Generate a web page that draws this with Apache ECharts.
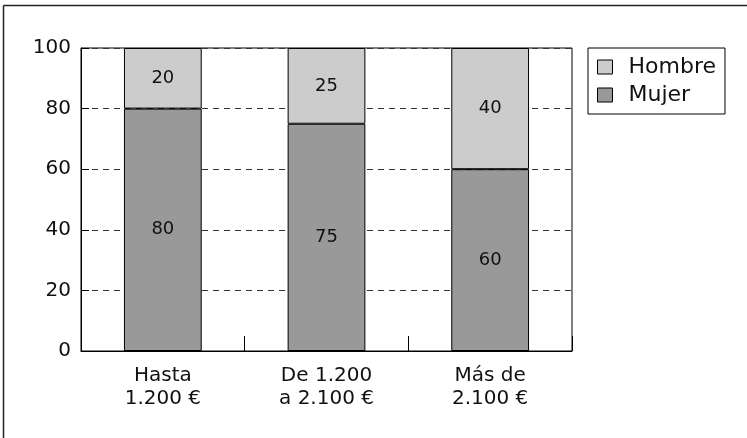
<!DOCTYPE html>
<html>
<head>
<meta charset="utf-8">
<script src="https://cdn.jsdelivr.net/npm/echarts@6/dist/echarts.min.js"></script>
<style>
html,body{margin:0;padding:0;background:#fff;}
#c{width:747px;height:438px;}
</style>
</head>
<body>
<div id="c"></div>
<script>
const categories = ['Hasta\n1.200 €', 'De 1.200\na 2.100 €', 'Más de\n2.100 €'];
const mujer = [80, 75, 60];
const hombre = [20, 25, 40];
const yTicks = [0, 20, 40, 60, 80, 100];

const FONT = 'DejaVu Sans';
const chart = echarts.init(document.getElementById('c'));
chart.setOption({
  animation: false,
  backgroundColor: '#fff',
  textStyle: { fontFamily: FONT, color: '#111' },
  grid: { left: 81, right: 175, top: 48, bottom: 87, show: true, borderColor: '#000', borderWidth: 1, backgroundColor: 'transparent' },
  legend: {
    left: 588, top: 48, orient: 'vertical',
    padding: [8, 9, 8, 9],
    itemWidth: 15, itemHeight: 14, itemGap: 6,
    borderColor: '#000', borderWidth: 1,
    icon: 'rect',
    data: ['Hombre', 'Mujer'],
    textStyle: { fontFamily: FONT, fontSize: 22, color: '#111', padding: [0, 0, 0, 11] },
    itemStyle: { borderColor: '#000', borderWidth: 1 }
  },
  xAxis: {
    type: 'category',
    data: categories,
    axisLine: { lineStyle: { color: '#000', width: 1 } },
    axisTick: { show: true, inside: true, length: 15, lineStyle: { color: '#000' } },
    axisLabel: { fontFamily: FONT, fontSize: 20, color: '#111', lineHeight: 23, margin: 13 }
  },
  yAxis: {
    type: 'value', min: 0, max: 100, interval: 20,
    axisLine: { show: true, lineStyle: { color: '#000', width: 1 } },
    axisTick: { show: true, inside: true, length: 8, lineStyle: { color: '#000' } },
    axisLabel: { fontFamily: FONT, fontSize: 20, color: '#111', margin: 10,
      formatter: v => yTicks.includes(v) ? String(v) : '' },
    splitLine: { show: true, lineStyle: { color: '#333', type: [6, 5], width: 1 } }
  },
  series: [
    {
      name: 'Mujer', type: 'bar', stack: 's', data: mujer, barWidth: '47.5%',
      itemStyle: { color: '#999999', borderColor: '#000', borderWidth: 1 },
      label: { show: true, position: 'inside', fontFamily: FONT, fontSize: 18, color: '#111' }
    },
    {
      name: 'Hombre', type: 'bar', stack: 's', data: hombre, barWidth: '47.5%',
      itemStyle: { color: '#cccccc', borderColor: '#000', borderWidth: 1 },
      label: { show: true, position: 'inside', fontFamily: FONT, fontSize: 18, color: '#111' }
    }
  ],
  graphic: [
    { type: 'line', shape: { x1: 3.5, y1: 5.5, x2: 747, y2: 5.5 }, style: { stroke: '#222', lineWidth: 1.5 } },
    { type: 'line', shape: { x1: 3.5, y1: 5.5, x2: 3.5, y2: 438 }, style: { stroke: '#222', lineWidth: 1.5 } }
  ]
});
</script>
</body>
</html>
